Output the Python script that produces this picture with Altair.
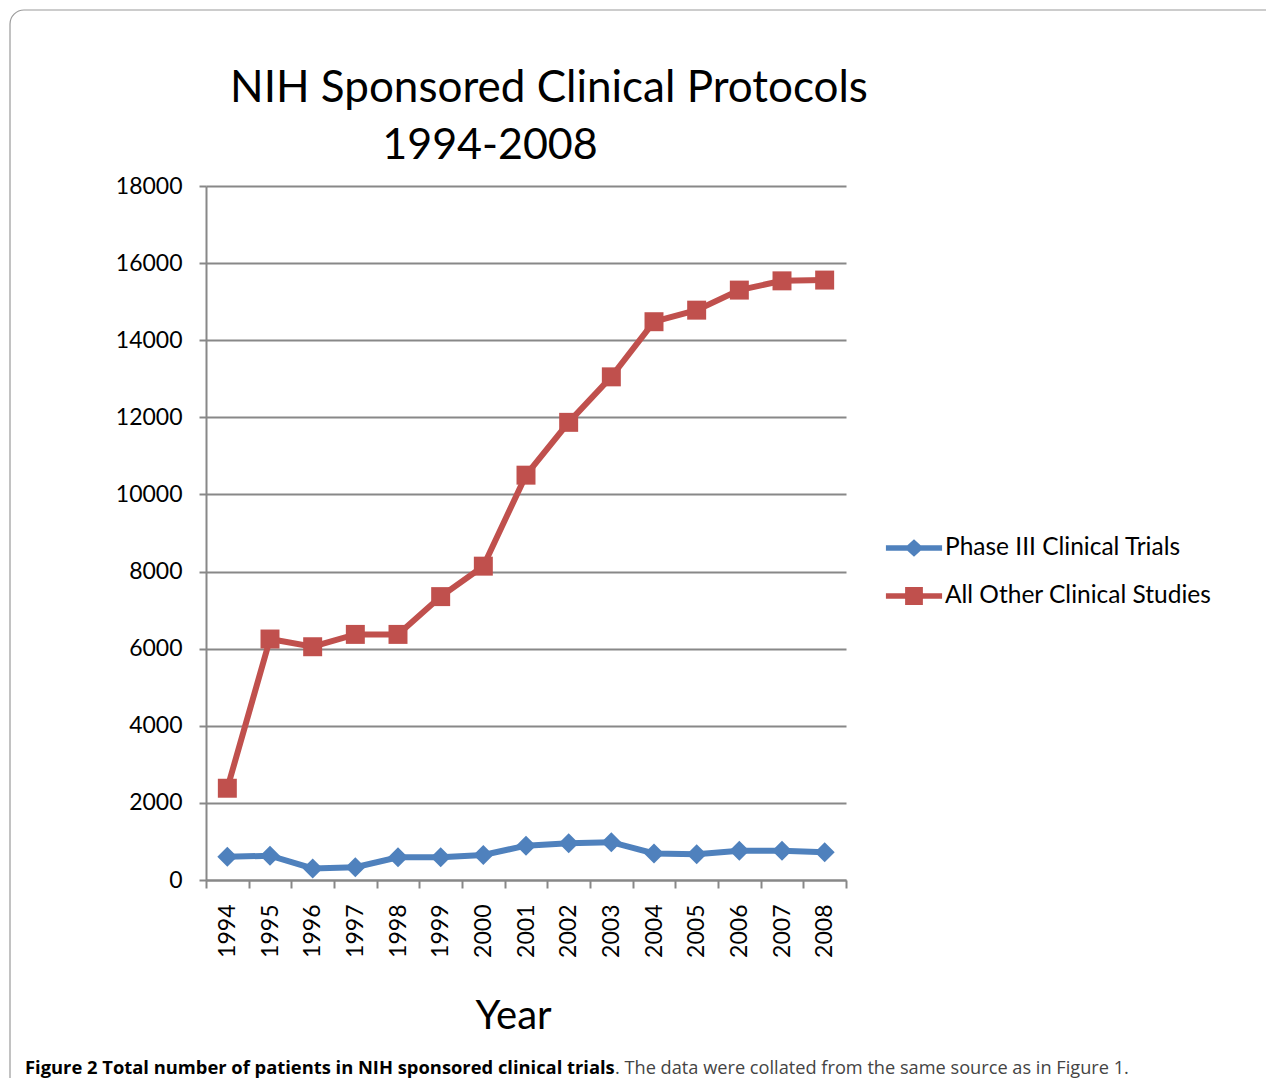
import altair as alt
import pandas as pd

years = [1994, 1995, 1996, 1997, 1998, 1999, 2000, 2001, 2002, 2003, 2004, 2005, 2006, 2007, 2008]
phase3 = [600, 630, 300, 330, 590, 590, 650, 890, 950, 980, 690, 670, 760, 760, 720]
other = [2380, 6250, 6050, 6370, 6370, 7350, 8140, 10500, 11870, 13050, 14480, 14780, 15300, 15540, 15560]
series_names = ["Phase III Clinical Trials", "All Other Clinical Studies"]
series_colors = ["#4F81BD", "#C0504D"]
y_ticks = [0, 2000, 4000, 6000, 8000, 10000, 12000, 14000, 16000, 18000]
title_line1 = "NIH Sponsored Clinical Protocols"
title_line2 = "1994-2008"
x_title = "Year"
caption_bold = "Figure 2 Total number of patients in NIH sponsored clinical trials"
caption_rest = ". The data were collated from the same source as in Figure 1."

rows = []
for name, vals in zip(series_names, [phase3, other]):
    for yr, v in zip(years, vals):
        rows.append({"year": yr, "value": v, "series": name})
df = pd.DataFrame(rows)

FONT = "Lato"
GRID = "#888888"

legend_diamond = ("M-1.17,-0.11 L1.17,-0.11 L1.17,0.11 L-1.17,0.11 Z "
                  "M0,-0.36 L0.4,0 L0,0.36 L-0.4,0 Z")
legend_square = ("M-1.17,-0.11 L1.17,-0.11 L1.17,0.11 L-1.17,0.11 Z "
                 "M-0.37,-0.37 L0.37,-0.37 L0.37,0.37 L-0.37,0.37 Z")

xenc = alt.X(
    "year:O",
    bandPosition=0.5,
    scale=alt.Scale(type="band", paddingInner=0, paddingOuter=0),
    axis=alt.Axis(
        title=x_title, tickBand="extent", labelAngle=270, labelFont=FONT,
        labelFontSize=23, labelColor="black", labelPadding=16, tickSize=8,
        tickColor=GRID, tickWidth=2, domainColor=GRID, domainWidth=2,
        grid=False, titleFont=FONT, titleFontSize=40, titleFontWeight="normal",
        titleColor="black", titleX=307, titleY=148, titleBaseline="alphabetic",
    ),
)
yenc = alt.Y(
    "value:Q",
    scale=alt.Scale(domain=[0, 18000], nice=False),
    axis=alt.Axis(
        title=None, values=y_ticks, format="d", labelFont=FONT, labelFontSize=23,
        labelColor="black", labelPadding=17, tickSize=7, tickColor=GRID,
        tickWidth=2, domainColor=GRID, domainWidth=2, gridColor=GRID,
        gridWidth=2, gridOpacity=1,
    ),
)
color_scale = alt.Scale(domain=series_names, range=series_colors)
shape_scale = alt.Scale(domain=series_names, range=[legend_diamond, legend_square])

legend_def = alt.Legend(
    title=None, orient="none", legendX=684, legendY=338, labelFont=FONT,
    labelFontSize=24.5, labelColor="black", labelOffset=7, symbolSize=2304,
    symbolStrokeWidth=0, symbolOpacity=1, rowPadding=12, padding=0,
    labelLimit=400,
)

base = alt.Chart(df)


def series_layers(name, color, shape, size):
    sub = base.transform_filter(alt.datum.series == name)
    ln = sub.mark_line(strokeWidth=6, color=color).encode(x=xenc, y=yenc)
    pt = sub.mark_point(shape=shape, filled=True, size=size, opacity=1, color=color).encode(x=xenc, y=yenc)
    return ln, pt


l_blue, p_blue = series_layers(series_names[0], series_colors[0], "diamond", 400)
l_red, p_red = series_layers(series_names[1], series_colors[1], "square", 360)

legend_layer = base.mark_point(filled=True, opacity=0).encode(
    x=xenc, y=yenc,
    color=alt.Color("series:N", scale=color_scale, legend=legend_def),
    shape=alt.Shape("series:N", scale=shape_scale, legend=legend_def),
)

frame = alt.Chart(pd.DataFrame({"k": [0]})).mark_rect(
    fill="white", fillOpacity=0, stroke="#9a9a9a", strokeWidth=1.2, cornerRadius=14
).encode(x=alt.value(-196), x2=alt.value(1200), y=alt.value(-176), y2=alt.value(1000))

t1 = alt.Chart(pd.DataFrame({"t": [title_line1]})).mark_text(
    font=FONT, fontSize=44, align="center", baseline="alphabetic", color="black"
).encode(text="t:N", x=alt.value(343), y=alt.value(-84))
t2 = alt.Chart(pd.DataFrame({"t": [title_line2]})).mark_text(
    font=FONT, fontSize=43, align="center", baseline="alphabetic", color="black"
).encode(text="t:N", x=alt.value(284), y=alt.value(-27))

c1 = alt.Chart(pd.DataFrame({"t": [caption_bold]})).mark_text(
    font="Open Sans", fontSize=18.35, fontWeight="bold", align="left",
    baseline="alphabetic", color="black"
).encode(text="t:N", x=alt.value(-181), y=alt.value(888))
c2 = alt.Chart(pd.DataFrame({"t": [caption_rest]})).mark_text(
    font="Open Sans", fontSize=18.2, align="left", baseline="alphabetic", color="#444444"
).encode(text="t:N", x=alt.value(409), y=alt.value(888))

chart = alt.layer(frame, l_blue, l_red, p_blue, p_red, legend_layer, t1, t2, c1, c2).properties(
    width=640, height=694,
    autosize=alt.AutoSizeParams(type="none"),
    padding={"left": 198, "top": 178, "right": 420, "bottom": 198},
    background="white",
).configure_view(stroke=None)

chart.save("out.html", embed_options={"renderer": "svg", "actions": False})
